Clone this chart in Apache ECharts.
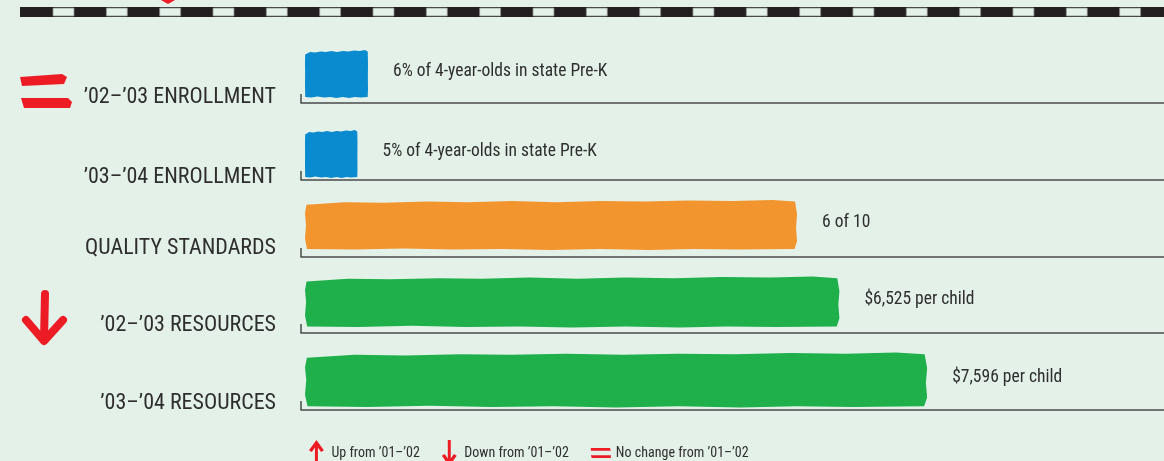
<!DOCTYPE html>
<html><head><meta charset="utf-8">
<script src="https://cdn.jsdelivr.net/npm/echarts@6/dist/echarts.min.js"></script>
<style>html,body{margin:0;padding:0;background:#e3f1e8;}#c{width:1164px;height:461px;}</style>
</head><body><div id="c"></div>
<script>
// ---- data ----
const categories = ["’02–’03 ENROLLMENT", "’03–’04 ENROLLMENT", "QUALITY STANDARDS", "’02–’03 RESOURCES", "’03–’04 RESOURCES"];
const values = [6, 5, 6, 6525, 7596];
const valueLabels = ["6% of 4-year-olds in state Pre-K", "5% of 4-year-olds in state Pre-K", "6 of 10", "$6,525 per child", "$7,596 per child"];
const trends = ["same", null, null, "down", null];
const legendNames = ["Up from ’01–’02", "Down from ’01–’02", "No change from ’01–’02"];

// ---- layout / style ----
const BG = '#e3f1e8', RED = '#ed1c24', TXT = '#2e2e2e';
const barColors = ['#0b8bcf', '#0b8bcf', '#f3952e', '#1fb04c', '#1fb04c'];
const rows = [
  {center: 74, base: 103, h: 48, min: -0.38, max: 81.8},
  {center: 154, base: 180, h: 48, min: -0.38, max: 81.8},
  {center: 225, base: 257, h: 50, min: -0.049, max: 10.475},
  {center: 302, base: 333, h: 51, min: -49, max: 10488},
  {center: 380, base: 410, h: 55, min: -49, max: 10488}
];
const LEFT = 301;
const FONT = '"Roboto Condensed", "DejaVu Sans Condensed", "Noto Sans", sans-serif';
const crayon = 'path://M0.3,12 L8,7 L16,8 L25,6 L33,7 L42,5 L51,7 L60,5 L69,6 L78,4 L87,5 L95,3 L99.6,6 L100,30 L99.8,55 L100,80 L99.5,95 L88,96 L79,95 L70,97 L60,95 L50,97 L40,95 L30,96 L20,94 L10,96 L0.4,95 L0,75 L0.2,50 L0,28 Z';

const chart = echarts.init(document.getElementById('c'));
const grids = [], xAxes = [], yAxes = [], series = [], graphics = [];

rows.forEach((r, i) => {
  const top = 2 * r.center - r.base;
  grids.push({left: LEFT, right: 0, top: top, height: 2 * (r.base - r.center)});
  xAxes.push({gridIndex: i, type: 'value', min: r.min, max: r.max,
    axisLine: {show: true, onZero: false, lineStyle: {color: '#4a4a4a', width: 1.5}},
    axisTick: {show: false}, axisLabel: {show: false}, splitLine: {show: false}});
  yAxes.push({gridIndex: i, type: 'category', data: [categories[i]],
    axisLine: {show: false}, axisTick: {show: false},
    axisLabel: {margin: 25, fontFamily: FONT,
      formatter: (v) => '{s|}\n{t|' + v + '}',
      rich: {s: {height: 47, lineHeight: 47}, t: {fontSize: 22, lineHeight: 22, color: TXT, fontFamily: FONT}}}});
  series.push({type: 'pictorialBar', xAxisIndex: i, yAxisIndex: i,
    symbol: crayon, symbolSize: ['100%', r.h], symbolRepeat: false, symbolPosition: 'start',
    itemStyle: {color: barColors[i]},
    label: {show: true, position: 'right', distance: 25, offset: [0, -2], fontSize: 17.5, color: TXT, fontFamily: FONT,
      formatter: () => valueLabels[i]},
    data: [values[i]]});
  graphics.push({type: 'line', shape: {x1: LEFT, y1: r.base - 9, x2: LEFT, y2: r.base}, style: {stroke: '#4a4a4a', lineWidth: 1.5}});
  if (trends[i] === 'same') {
    graphics.push({type: 'polygon', shape: {points: [[20,77],[62,74],[67,77],[64,84],[22,86]]}, style: {fill: RED}});
    graphics.push({type: 'polygon', shape: {points: [[21,98],[68,98],[72,102],[70,108],[24,108]]}, style: {fill: RED}});
  } else if (trends[i] === 'down') {
    graphics.push({type: 'polyline', shape: {points: [[45, 294], [44, 340]]}, style: {stroke: RED, lineWidth: 8, lineCap: 'round'}});
    graphics.push({type: 'polyline', shape: {points: [[26, 320], [44, 341], [63, 320]]}, style: {stroke: RED, lineWidth: 8, lineCap: 'round', lineJoin: 'round'}});
  }
});

const upIcon = 'path://M8,0 L16,11 L13,13 L9.6,8 L9.6,28 L6.4,28 L6.4,8 L3,13 L0,11 Z';
const downIcon = 'path://M6.4,0 L9.6,0 L9.6,20 L13,15 L16,17 L8,28 L0,17 L3,15 L6.4,20 Z';
const eqIcon = 'path://M0,0 L21,0 L22,3.2 L0,3.2 Z M0,8 L22,8 L22,11.2 L1,11.2 Z';
const icons = [upIcon, downIcon, eqIcon];
legendNames.forEach((n) => series.push({type: 'line', name: n, xAxisIndex: 0, yAxisIndex: 0, data: [], itemStyle: {color: RED}}));

graphics.push({type: 'rect', shape: {x: 20, y: 7, width: 1144, height: 10}, style: {fill: '#231f20'}});
for (let x = 53; x < 1164; x += 53.33) {
  graphics.push({type: 'rect', shape: {x: x, y: 8, width: 21, height: 8}, style: {fill: BG, stroke: '#8a8a8a', lineWidth: 0.8}});
}
graphics.push({type: 'polygon', shape: {points: [[161, 0], [175, 0], [168, 4]]}, style: {fill: RED}});

chart.setOption({
  backgroundColor: BG,
  animation: false,
  grid: grids, xAxis: xAxes, yAxis: yAxes, series: series,
  legend: {left: 304, top: 435, itemWidth: 20, itemHeight: 26, itemGap: 22, selectedMode: false,
    textStyle: {fontSize: 14, color: TXT, fontFamily: FONT},
    data: legendNames.map((n, k) => ({name: n, icon: icons[k]}))},
  graphic: graphics
});
</script></body></html>
